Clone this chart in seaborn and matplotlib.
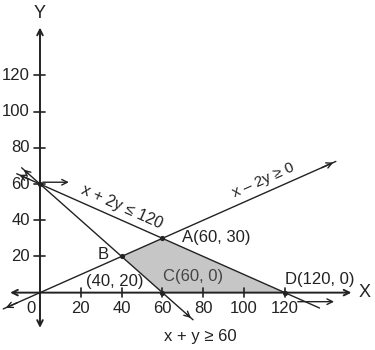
import matplotlib
matplotlib.use("Agg")
import matplotlib.pyplot as plt
import seaborn as sns
import pandas as pd

sns.set_theme(style="white")
plt.rcParams['font.family'] = ['Liberation Sans', 'DejaVu Sans']

# ---- data ----
# constraint lines as drawn (end points)
line_x_minus_2y_x = [-18, 145]          # x - 2y = 0
line_x_minus_2y_y = [-9, 72.5]
line_x_plus_2y_x = [-11.4, 137]         # x + 2y = 120
line_x_plus_2y_y = [65.7, -8.5]
line_x_plus_y_x = [-9, 75]              # x + y = 60
line_x_plus_y_y = [69, -15]

# feasible region B, A, D, C
region_x = [40, 60, 120, 60]
region_y = [20, 30, 0, 0]

# corner / intersection points
point_x = [0, 40, 60, 60, 120]
point_y = [60, 20, 30, 0, 0]

xtick_vals = [20, 40, 60, 80, 100, 120]
ytick_vals = [20, 40, 60, 80, 100, 120]

ink = "#222222"

fig = plt.figure(figsize=(3.75, 3.5), dpi=100)
ax = fig.add_axes([0, 0, 1, 1])
ax.set_xlim(-19.6, 164.2)
ax.set_ylim(-31.7, 161.7)
ax.axis("off")

# shaded region
ax.fill(region_x, region_y, color="#c6c6c6", lw=0, zorder=1)

arrow_kw = dict(arrowstyle="->", color=ink, lw=1.0, mutation_scale=10)

# axes with arrows
ax.annotate("", xy=(154, 0), xytext=(-16, 0),
            arrowprops=dict(arrowstyle="<->", color=ink, lw=1.4, mutation_scale=10), zorder=3)
ax.annotate("", xy=(0, 148), xytext=(0, -21),
            arrowprops=dict(arrowstyle="<->", color=ink, lw=1.4, mutation_scale=10), zorder=3)

# constraint lines
for lx, ly in [(line_x_minus_2y_x, line_x_minus_2y_y),
               (line_x_plus_2y_x, line_x_plus_2y_y),
               (line_x_plus_y_x, line_x_plus_y_y)]:
    df = pd.DataFrame({"x": lx, "y": ly})
    sns.lineplot(data=df, x="x", y="y", ax=ax, color=ink, lw=1.0,
                 sort=False, estimator=None, zorder=2)

def head(xs, ys, idx):
    j = 1 if idx == 0 else 0
    x0, y0 = xs[idx], ys[idx]
    x1, y1 = xs[j], ys[j]
    ax.annotate("", xy=(x0, y0),
                xytext=(x0 + (x1 - x0) * 0.05, y0 + (y1 - y0) * 0.05),
                arrowprops=arrow_kw, zorder=3)

head(line_x_minus_2y_x, line_x_minus_2y_y, 0)
head(line_x_minus_2y_x, line_x_minus_2y_y, 1)
head(line_x_plus_2y_x, line_x_plus_2y_y, 0)
head(line_x_plus_y_x, line_x_plus_y_y, 0)
head(line_x_plus_y_x, line_x_plus_y_y, 1)

# direction arrows
ax.annotate("", xy=(15.5, 61), xytext=(0, 61), arrowprops=arrow_kw, zorder=3)
ax.annotate("", xy=(145.5, -5), xytext=(125, -5), arrowprops=arrow_kw, zorder=3)

# points
sns.scatterplot(x=point_x, y=point_y, ax=ax, color=ink, s=14,
                edgecolor=ink, linewidth=0, zorder=4)

# ticks
fs = 12
for v in xtick_vals:
    ax.plot([v, v], [-2.4, 2.6], color=ink, lw=1.2, zorder=3)
    ax.text(v, -8.6, str(v), ha="center", va="center", fontsize=fs, color=ink)
for v in ytick_vals:
    ax.plot([-2.9, 2.5], [v, v], color=ink, lw=1.2, zorder=3)
    ax.text(-4.9, v, str(v), ha="right", va="center", fontsize=fs, color=ink)
ax.text(-4.5, -8.6, "0", ha="center", va="center", fontsize=fs, color=ink)

# axis names
ax.text(0, 154.5, "Y", ha="center", va="center", fontsize=13, color=ink)
ax.text(159.3, 0, "X", ha="center", va="center", fontsize=13, color=ink)

# annotations
ax.text(40.2, 47.3, "x + 2y ≤ 120", ha="center", va="center", rotation=-24,
        fontsize=11.5, color=ink, rotation_mode="anchor")
ax.text(109.3, 62.3, "x – 2y ≥ 0", ha="center", va="center", rotation=24,
        fontsize=11, color=ink, rotation_mode="anchor")
ax.text(69.6, 30.2, "A(60, 30)", ha="left", va="center", fontsize=fs, color=ink)
ax.text(30.9, 20.8, "B", ha="center", va="center", fontsize=fs, color=ink)
ax.text(36.8, 5.9, "(40, 20)", ha="center", va="center", fontsize=fs, color=ink)
ax.text(60.3, 8.7, "C(60, 0)", ha="left", va="center", fontsize=fs, color="#444444")
ax.text(120.1, 7.0, "D(120, 0)", ha="left", va="center", fontsize=fs, color=ink)
ax.text(78.4, -24.5, "x + y ≥ 60", ha="center", va="center", fontsize=fs, color=ink)

fig.savefig("out.png", dpi=100)
